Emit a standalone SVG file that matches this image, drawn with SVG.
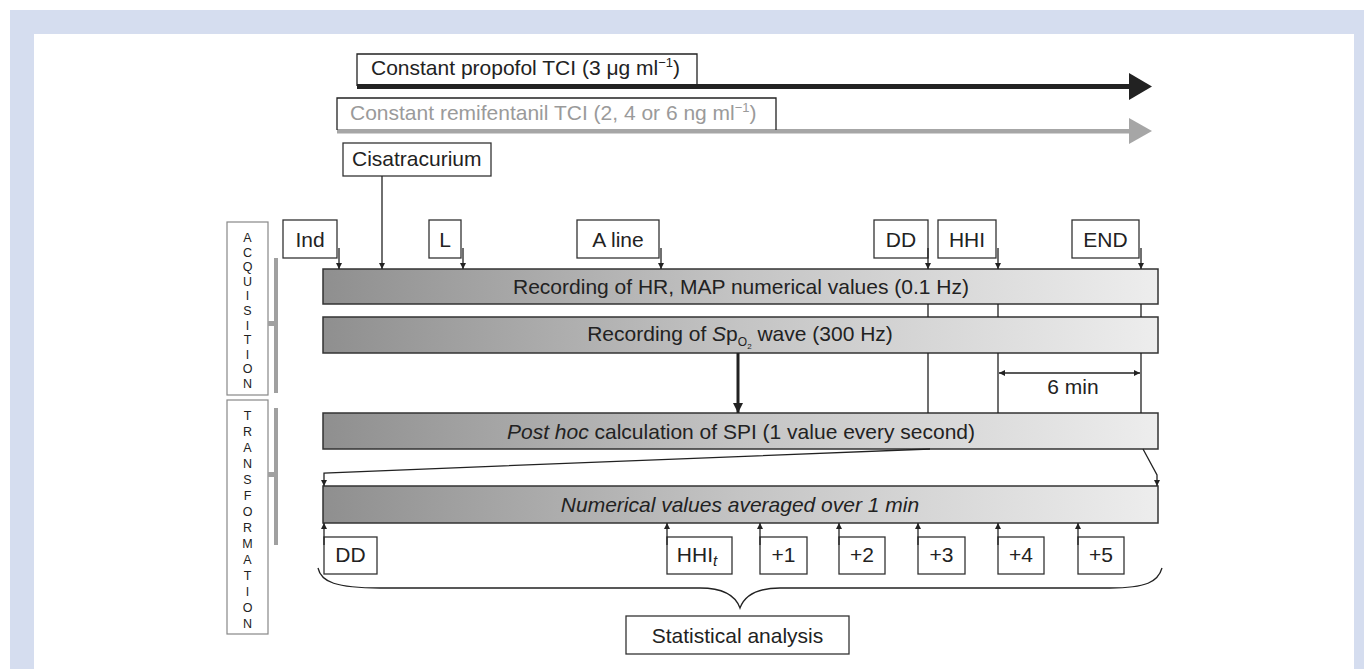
<svg xmlns="http://www.w3.org/2000/svg" width="1364" height="669" viewBox="0 0 1364 669">
<defs>
<linearGradient id="barg" x1="0" y1="0" x2="1" y2="0">
<stop offset="0" stop-color="#8f8f8f"/>
<stop offset="0.5" stop-color="#c4c4c4"/>
<stop offset="1" stop-color="#ededed"/>
</linearGradient>
<marker id="ah" viewBox="0 0 10 10" refX="10" refY="5" markerWidth="6" markerHeight="7" markerUnits="userSpaceOnUse" orient="auto-start-reverse">
<path d="M0,0 L10,5 L0,10 z" fill="#222"/>
</marker>
<marker id="ahb" viewBox="0 0 10 10" refX="10" refY="5" markerWidth="10" markerHeight="12" markerUnits="userSpaceOnUse" orient="auto">
<path d="M0,0 L10,5 L0,10 z" fill="#222"/>
</marker>
</defs>
<style>
text{font-family:"Liberation Sans",Arial,sans-serif;fill:#222;}
.lbl{font-size:21px;}
.mid{text-anchor:middle;}
.box{fill:#fff;stroke:#333;stroke-width:1.3;}
.bar{fill:url(#barg);stroke:#333;stroke-width:1.5;}
.vl{font-size:12.5px;text-anchor:middle;}
.ln{stroke:#222;stroke-width:1.3;fill:none;}
.arr{stroke:#222;stroke-width:1.3;fill:none;marker-end:url(#ah);}
.sidebox{fill:#fff;stroke:#888;stroke-width:1.2;}
</style>
<rect x="0" y="0" width="1364" height="669" fill="#fff"/>
<g id="frame" fill="#d5ddef">
<rect x="10" y="10" width="1354" height="24"/>
<rect x="10" y="10" width="24" height="659"/>
<rect x="1354" y="10" width="10" height="659"/>
</g>

<g id="propofol">
<rect x="357" y="84" width="774" height="5" fill="#222"/>
<polygon points="1129,73 1152,86.5 1129,100" fill="#222"/>
<path d="M357,86 V54 H697 V86" class="ln"/>
<text x="371" y="75" class="lbl">Constant propofol TCI (3 μg ml<tspan font-size="13" dy="-8">−1</tspan><tspan dy="8">)</tspan></text>
</g>
<g id="remifentanil">
<rect x="337" y="129" width="794" height="4.5" fill="#a6a6a6"/>
<polygon points="1129,118 1152,131 1129,144" fill="#a6a6a6"/>
<path d="M337,130 V98 H776 V130" class="ln" stroke="#444"/>
<text x="350" y="120" class="lbl" style="fill:#9a9a9a">Constant remifentanil TCI (2, 4 or 6 ng ml<tspan font-size="13" dy="-8">−1</tspan><tspan dy="8">)</tspan></text>
</g>
<g id="cisatracurium">
<rect x="343" y="143" width="148" height="33" class="box"/>
<text x="352" y="166" class="lbl">Cisatracurium</text>
</g>

<g id="acquisition">
<rect x="227" y="222" width="41" height="173" class="sidebox"/>
<rect x="274" y="258" width="4" height="135" fill="#a0a0a0"/>
<rect x="268" y="321" width="10" height="5" fill="#a0a0a0"/>
<text class="vl"><tspan x="247.5" y="242">A</tspan><tspan x="247.5" y="256.6">C</tspan><tspan x="247.5" y="271.2">Q</tspan><tspan x="247.5" y="285.8">U</tspan><tspan x="247.5" y="300.4">I</tspan><tspan x="247.5" y="315">S</tspan><tspan x="247.5" y="329.6">I</tspan><tspan x="247.5" y="344.2">T</tspan><tspan x="247.5" y="358.8">I</tspan><tspan x="247.5" y="373.4">O</tspan><tspan x="247.5" y="388">N</tspan></text>
</g>
<g id="transformation">
<rect x="227" y="400" width="41" height="234" class="sidebox"/>
<rect x="274" y="408" width="4" height="137" fill="#a0a0a0"/>
<rect x="268" y="472" width="10" height="5" fill="#a0a0a0"/>
<text class="vl"><tspan x="247.5" y="419.5">T</tspan><tspan x="247.5" y="435.5">R</tspan><tspan x="247.5" y="451.5">A</tspan><tspan x="247.5" y="467.5">N</tspan><tspan x="247.5" y="483.5">S</tspan><tspan x="247.5" y="499.5">F</tspan><tspan x="247.5" y="515.5">O</tspan><tspan x="247.5" y="531.5">R</tspan><tspan x="247.5" y="547.5">M</tspan><tspan x="247.5" y="563.5">A</tspan><tspan x="247.5" y="579.5">T</tspan><tspan x="247.5" y="595.5">I</tspan><tspan x="247.5" y="611.5">O</tspan><tspan x="247.5" y="627.5">N</tspan></text>
</g>

<g id="ind"><rect x="283" y="220" width="54" height="38" class="box"/><text x="310" y="247" class="lbl mid">Ind</text></g>
<g id="l"><rect x="429" y="220" width="32" height="38" class="box"/><text x="445" y="247" class="lbl mid">L</text></g>
<g id="aline"><rect x="577" y="220" width="82" height="38" class="box"/><text x="618" y="247" class="lbl mid">A line</text></g>
<g id="dd-top"><rect x="874" y="220" width="54" height="38" class="box"/><text x="901" y="247" class="lbl mid">DD</text></g>
<g id="hhi-top"><rect x="938" y="220" width="58" height="38" class="box"/><text x="967" y="247" class="lbl mid">HHI</text></g>
<g id="end"><rect x="1072" y="220" width="67" height="38" class="box"/><text x="1105.5" y="247" class="lbl mid">END</text></g>

<g id="bar-hr">
<rect x="323" y="269" width="835" height="35" class="bar"/>
<text x="741" y="294" class="lbl mid">Recording of HR, MAP numerical values (0.1 Hz)</text>
</g>
<g id="bar-spo2">
<rect x="323" y="317" width="835" height="36" class="bar"/>
<text x="740" y="341" class="lbl mid">Recording of <tspan font-style="italic">S</tspan>p<tspan font-size="12" dy="5">O</tspan><tspan font-size="8" dy="3">2</tspan><tspan dy="-8"> wave (300 Hz)</tspan></text>
</g>
<g id="bar-spi">
<rect x="323" y="413" width="835" height="36" class="bar"/>
<text x="741" y="439" class="lbl mid"><tspan font-style="italic">Post hoc</tspan> calculation of SPI (1 value every second)</text>
</g>
<g id="bar-avg">
<rect x="323" y="486" width="835" height="37" class="bar"/>
<text x="740" y="512" class="lbl mid" font-style="italic">Numerical values averaged over 1 min</text>
</g>

<g id="b-dd"><rect x="324" y="537" width="53" height="37" class="box"/><text x="350.5" y="562" class="lbl mid">DD</text></g>
<g id="b-hhit"><rect x="667" y="537" width="65" height="37" class="box"/><text x="697" y="562" class="lbl mid">HHI<tspan font-style="italic" font-size="15" dy="4">t</tspan></text></g>
<g id="b-p1"><rect x="760" y="537" width="47" height="37" class="box"/><text x="783.5" y="562" class="lbl mid">+1</text></g>
<g id="b-p2"><rect x="839" y="537" width="46" height="37" class="box"/><text x="862" y="562" class="lbl mid">+2</text></g>
<g id="b-p3"><rect x="918" y="537" width="47" height="37" class="box"/><text x="941.5" y="562" class="lbl mid">+3</text></g>
<g id="b-p4"><rect x="998" y="537" width="46" height="37" class="box"/><text x="1021" y="562" class="lbl mid">+4</text></g>
<g id="b-p5"><rect x="1078" y="537" width="46" height="37" class="box"/><text x="1101" y="562" class="lbl mid">+5</text></g>
<g id="stat"><rect x="626" y="616" width="223" height="38" class="box"/><text x="737.5" y="643" class="lbl mid">Statistical analysis</text></g>

<g id="connectors">
<line x1="339" y1="248" x2="339" y2="269" class="arr"/>
<line x1="382" y1="176" x2="382" y2="269" class="arr"/>
<line x1="463" y1="248" x2="463" y2="269" class="arr"/>
<line x1="661" y1="248" x2="661" y2="269" class="arr"/>
<line x1="928" y1="248" x2="928" y2="269" class="arr"/>
<line x1="998" y1="248" x2="998" y2="269" class="arr"/>
<line x1="1141" y1="248" x2="1141" y2="269" class="arr"/>
<path d="M928,304 V317 M998,304 V317 M1141,304 V317 M928,353 V413 M998,353 V413 M1141,353 V413" class="ln"/>
<line x1="738" y1="353" x2="738" y2="413" stroke="#222" stroke-width="3" marker-end="url(#ahb)"/>
<line x1="999" y1="373" x2="1140" y2="373" class="ln" marker-start="url(#ah)" marker-end="url(#ah)"/>
<text x="1073" y="394" class="lbl mid">6 min</text>
<path d="M930,449 L324,473 V486" class="arr"/>
<path d="M1143,449 L1157,475 V486" class="arr"/>
<line x1="324" y1="545" x2="324" y2="523" class="arr"/>
<line x1="667" y1="545" x2="667" y2="523" class="arr"/>
<line x1="760" y1="545" x2="760" y2="523" class="arr"/>
<line x1="839" y1="545" x2="839" y2="523" class="arr"/>
<line x1="918" y1="545" x2="918" y2="523" class="arr"/>
<line x1="998" y1="545" x2="998" y2="523" class="arr"/>
<line x1="1078" y1="545" x2="1078" y2="523" class="arr"/>
<path d="M318,568 C321,582 336,588 380,588 L700,588 C726,588 736,597 740,608 C744,597 754,588 780,588 L1110,588 C1146,588 1158,582 1162,568" class="ln"/>
</g>
</svg>
